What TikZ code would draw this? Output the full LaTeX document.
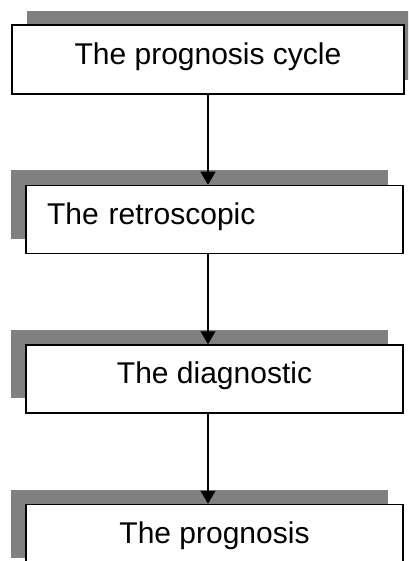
\documentclass[tikz,border=0pt]{standalone}
\usepackage{fontspec}
\setmainfont{Liberation Sans}
\usetikzlibrary{arrows.meta, positioning, shadows}
\definecolor{shadowgray}{RGB}{128,128,128}

\begin{document}
\begin{tikzpicture}[auto, node distance=90pt, thick,
    box node/.style={rectangle, draw, fill=white, line width=1.5pt, minimum width=377pt, minimum height=68pt,
        inner sep=0pt, text height=21pt, text depth=12pt, font=\fontsize{30}{36}\selectfont},
    left shadow/.style={drop shadow={opacity=1, fill=shadowgray, shadow xshift=-15pt, shadow yshift=15pt}},
    right shadow/.style={drop shadow={opacity=1, fill=shadowgray, shadow xshift=15pt, shadow yshift=14pt}},
    conn/.style={-{Triangle[length=13pt, width=15pt]}, line width=1.1pt}]
\clip (0,0) rectangle (408pt,-561pt);
\node[box node, right shadow, minimum width=392pt, minimum height=69pt, text depth=11pt](b1) at (208pt,-59.5pt){The prognosis cycle};
\node[box node, left shadow, xshift=6.5pt, text width=335pt, align=left, inner xsep=21pt](b2)[below=of b1]{The retroscopic};
\node[box node, left shadow](b3)[below=of b2]{The diagnostic};
\node[box node, left shadow](b4)[below=of b3]{The prognosis};
\foreach \a/\b in {b1/b2, b2/b3, b3/b4}{
    \draw[conn] (b1 |- \a.south) -- (b1 |- \b.north);}
\end{tikzpicture}
\end{document}
